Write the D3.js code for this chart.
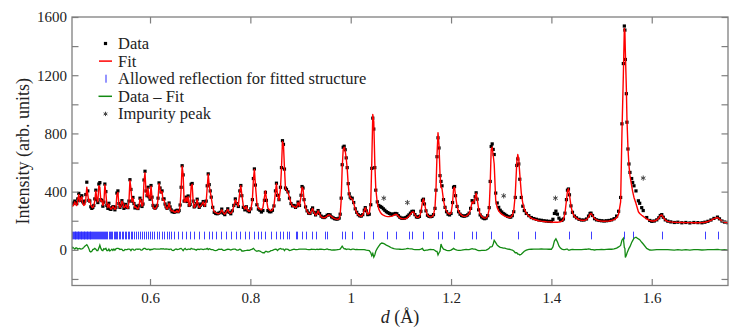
<!DOCTYPE html>
<html>
<head>
<meta charset="utf-8">
<script src="https://cdn.jsdelivr.net/npm/d3@7"></script>
<style>
body { margin: 0; background: #fff; }
text { font-family: "Liberation Serif", "DejaVu Serif", serif; fill: #222; }
</style>
</head>
<body>
<svg id="chart" width="748" height="333"></svg>
<script>
//Messpunkte: d-Werte (Angstrom)
var obsD = [
  0.444,0.446,0.448,0.450,0.452,0.454,0.456,0.458,0.460,0.462,
  0.464,0.466,0.468,0.470,0.472,0.474,0.476,0.478,0.480,0.482,
  0.484,0.486,0.488,0.490,0.492,0.494,0.496,0.498,0.500,0.502,
  0.504,0.506,0.508,0.510,0.512,0.514,0.516,0.518,0.520,0.522,
  0.524,0.526,0.528,0.530,0.532,0.534,0.536,0.538,0.540,0.542,
  0.544,0.546,0.548,0.550,0.552,0.554,0.556,0.558,0.560,0.562,
  0.564,0.566,0.568,0.570,0.572,0.574,0.576,0.578,0.580,0.582,
  0.584,0.586,0.588,0.590,0.592,0.594,0.596,0.598,0.600,0.602,
  0.604,0.606,0.608,0.610,0.612,0.614,0.616,0.618,0.620,0.622,
  0.624,0.626,0.628,0.630,0.632,0.634,0.636,0.638,0.640,0.642,
  0.644,0.646,0.648,0.650,0.652,0.654,0.656,0.658,0.660,0.662,
  0.664,0.666,0.668,0.670,0.672,0.674,0.676,0.678,0.680,0.682,
  0.684,0.686,0.688,0.690,0.692,0.694,0.696,0.698,0.700,
  0.703,0.706,0.709,0.712,0.714,0.716,0.718,0.720,0.722,0.725,
  0.728,0.731,0.734,0.737,0.740,0.743,0.746,0.749,0.752,0.755,
  0.758,0.761,0.764,0.767,0.770,0.773,0.776,0.779,0.781,0.783,
  0.786,0.789,0.792,0.795,0.798,0.801,0.804,0.806,0.808,0.810,
  0.813,0.816,0.819,0.822,0.825,0.828,0.830,0.832,0.835,0.838,
  0.841,0.844,0.847,0.850,0.852,0.854,0.857,0.860,0.862,0.864,
  0.866,0.868,0.870,0.872,0.875,0.878,0.881,0.884,0.887,0.890,
  0.893,0.895,0.898,0.901,0.903,0.905,0.907,0.910,0.913,0.916,
  0.919,0.922,0.924,0.927,0.930,0.933,0.935,0.938,0.941,0.944,
  0.947,0.950,0.953,0.956,0.959,0.962,0.965,0.968,0.971,0.974,
  0.977,0.979,0.981,0.983,0.985,0.987,0.989,0.991,0.993,0.995,
  0.997,0.999,
  1.001,1.003,1.006,1.009,1.012,1.015,1.018,1.021,1.024,1.027,
  1.029,1.031,1.034,1.037,1.040,1.042,1.044,1.046,1.048,1.050,
  1.053,1.056,1.059,1.062,1.065,1.068,1.071,1.074,1.077,1.080,
  1.083,1.086,1.089,1.092,1.095,1.098,1.101,1.104,1.107,1.110,
  1.113,1.116,1.119,1.122,1.125,1.128,1.131,1.134,1.137,1.140,
  1.143,1.145,1.147,1.150,1.153,1.156,1.159,1.162,1.165,1.168,
  1.170,1.172,1.174,1.176,1.178,1.180,1.182,1.185,1.188,1.191,
  1.194,1.197,1.200,1.203,1.205,1.207,1.209,1.212,1.215,1.218,
  1.221,1.224,1.227,1.230,1.233,1.236,1.239,1.242,1.245,1.248,
  1.250,1.252,1.255,1.258,1.261,1.264,1.267,1.270,1.273,1.276,
  1.278,1.280,1.282,1.284,1.286,1.289,1.292,1.295,1.298,1.301,
  1.304,1.307,1.310,1.313,1.316,1.319,1.322,1.325,1.328,1.331,
  1.333,1.335,1.337,1.340,1.343,1.346,1.350,1.355,1.360,1.365,
  1.370,1.375,1.380,1.385,1.390,1.395,1.400,
  1.403,1.406,1.409,1.412,1.415,1.418,1.421,1.424,1.427,1.430,
  1.432,1.434,1.436,1.439,1.442,1.446,1.450,1.455,1.460,1.465,
  1.470,1.474,1.477,1.479,1.482,1.486,1.490,1.495,1.500,1.505,
  1.510,1.515,1.520,1.525,1.530,1.534,1.538,1.5406,1.5434,1.5454,
  1.5465,1.5474,1.5494,1.5506,1.5526,1.5546,1.5566,1.560,1.562,1.5646,
  1.5686,1.5734,1.576,1.580,1.583,1.590,1.596,1.600,1.605,1.610,
  1.614,1.617,1.620,1.623,1.627,1.632,1.638,1.645,1.652,1.660,
  1.668,1.676,1.684,1.692,1.700,1.706,1.712,1.718,1.724,1.731,
  1.735,1.740,1.745,1.752
];

//Gemessene Intensitaet
var obsI = [
  312,318,322,335,325,318,350,388,340,360,
  372,330,322,335,380,465,405,340,335,296,
  285,292,305,350,410,345,325,452,462,345,
  338,300,328,452,400,305,285,320,282,278,
  290,296,295,275,292,390,405,318,292,305,
  338,315,285,298,312,292,290,335,482,415,
  335,360,318,288,300,290,284,305,355,338,
  298,315,480,540,405,372,430,365,348,442,
  362,305,292,286,295,305,355,460,425,398,
  405,348,350,315,296,285,300,322,295,275,
  262,265,258,262,268,272,262,270,308,430,
  578,515,335,340,362,332,370,305,312,450,
  456,335,295,302,318,348,315,292,305,
  315,332,305,335,440,522,448,405,362,292,
  258,250,248,252,258,280,252,242,262,282,
  258,248,268,305,350,318,298,405,442,372,
  292,275,296,268,262,282,345,490,556,445,
  310,280,272,260,270,340,395,340,270,262,
  262,272,302,405,458,375,345,430,565,750,
  725,555,425,415,398,355,318,302,305,292,
  302,328,305,375,435,425,345,295,268,252,
  250,275,288,258,240,255,270,250,232,225,
  222,228,238,242,240,226,220,214,212,212,
  218,245,355,585,705,712,688,632,565,455,
  385,362,
  352,355,325,282,258,242,234,232,242,272,
  290,268,242,245,310,560,905,830,565,410,
  330,305,298,292,282,272,262,256,250,246,
  244,246,250,248,235,224,218,216,218,222,
  230,240,252,264,265,242,226,224,230,265,
  340,348,315,268,238,230,228,230,242,285,
  410,640,770,700,510,470,440,345,292,262,
  245,240,250,325,430,435,372,298,262,245,
  236,232,232,235,240,252,285,338,325,365,
  392,348,275,240,226,218,214,218,235,290,
  470,710,728,690,655,390,322,292,272,260,
  250,244,236,230,226,225,235,262,360,580,
  625,590,485,360,300,270,250,235,222,215,
  210,205,203,200,198,196,195,
  210,250,266,245,218,205,202,212,252,345,
  410,418,378,302,258,232,220,210,205,205,
  212,232,250,252,236,214,206,202,200,198,
  200,202,206,214,232,265,360,866,1280,1538,
  1510,1308,1073,877,693,590,532,490,463,440,
  405,337,320,290,270,222,202,196,198,206,
  220,236,242,224,206,197,192,188,190,186,
  188,185,188,187,186,190,196,205,216,225,
  213,198,191,186
];

//Angepasste Kurve (Fit) an denselben d-Werten
var fitI = [
  305,300,310,330,312,305,345,380,330,355,
  365,320,305,310,350,430,380,330,345,310,
  295,290,300,340,405,350,330,440,430,335,
  340,305,320,448,390,310,290,315,290,280,
  285,300,290,278,285,380,395,310,290,300,
  335,320,290,295,310,290,285,330,478,420,
  330,355,320,290,295,285,280,300,350,340,
  300,310,470,530,400,370,425,360,350,438,
  360,300,285,280,290,300,350,455,420,390,
  400,340,345,310,290,280,295,320,290,270,
  265,270,260,258,262,270,258,265,300,420,
  575,520,330,330,360,330,365,300,310,440,
  450,330,290,300,320,345,310,290,300,
  310,330,300,330,430,520,440,400,360,290,
  262,255,250,248,255,275,255,245,260,278,
  255,250,265,300,345,320,300,400,440,380,
  300,280,300,270,265,280,340,480,553,450,
  320,285,280,275,290,360,405,350,285,275,
  268,275,300,400,455,380,340,420,560,745,
  720,560,420,410,395,360,320,300,300,290,
  300,325,300,370,430,420,340,290,265,250,
  248,270,285,255,238,250,268,245,228,222,
  220,225,232,240,238,228,220,215,212,210,
  215,240,340,560,690,705,680,630,560,450,
  380,360,
  350,350,320,280,255,240,233,230,240,270,
  290,270,245,250,330,600,930,880,600,420,
  320,280,258,245,238,233,230,228,228,230,
  232,238,244,243,230,220,215,213,213,215,
  220,232,245,258,262,240,225,222,228,260,
  330,350,320,270,240,228,225,228,240,290,
  420,650,805,720,520,430,420,340,290,265,
  250,245,252,320,420,430,370,300,265,248,
  238,232,230,232,238,250,280,330,320,360,
  390,350,280,245,230,222,218,220,232,280,
  450,690,705,650,590,340,290,268,255,245,
  238,232,228,225,222,224,236,270,380,600,
  655,620,520,390,320,280,252,232,218,210,
  205,200,197,195,193,192,191,
  190,190,190,190,191,193,197,210,250,340,
  405,420,380,300,255,230,218,208,203,202,
  208,225,245,250,235,215,205,200,197,196,
  197,198,202,208,220,245,330,800,1200,1522,
  1500,1360,1110,900,700,580,510,440,400,360,
  318,262,250,238,230,212,203,198,198,205,
  218,235,240,222,205,196,192,190,189,188,
  187,187,186,186,187,190,195,203,215,222,
  212,198,190,188
];

//Erlaubte Reflexe der angepassten Struktur
var reflD = [
  0.445,0.4465,0.448,0.4495,0.451,0.4525,0.454,0.4555,0.457,0.4585,
  0.460,0.4615,0.463,0.4645,0.466,0.4675,0.469,0.4705,0.472,0.4735,
  0.475,0.4765,0.478,0.4795,0.481,0.483,0.485,0.487,0.489,0.491,
  0.493,0.495,0.497,0.499,0.501,0.503,0.505,0.507,0.509,0.511,
  0.513,0.515,0.5175,0.520,0.5225,0.525,0.5275,0.530,0.5325,0.535,
  0.538,0.541,0.544,0.547,0.550,0.553,0.556,0.559,0.562,0.565,
  0.568,0.572,0.576,0.580,0.584,0.588,0.592,0.596,0.600,0.604,
  0.608,0.613,0.618,0.623,0.628,0.633,0.638,0.642,0.647,0.656,
  0.664,0.671,0.679,0.687,0.697,0.707,0.717,0.724,0.732,0.742,
  0.752,0.761,0.771,0.780,0.790,0.798,0.807,0.815,0.822,0.830,
  0.842,0.851,0.860,0.866,0.874,0.878,0.890,0.893,0.903,0.910,
  0.922,0.931,0.949,0.953,0.983,0.989,1.003,1.027,1.044,1.072,
  1.090,1.116,1.123,1.144,1.173,1.181,1.205,1.241,1.250,1.279,
  1.333,1.368,1.435,1.479,1.545,1.562,1.620,1.707,1.732
];

//Fremdphasen-Peaks (Sternchen)
var impD = [1.066, 1.113, 1.305, 1.408, 1.583];
var impI = [355, 325, 371, 355, 493];

//Achsen
var xTicks = [0.6, 0.8, 1.0, 1.2, 1.4, 1.6];
var xTickLabels = ["0.6", "0.8", "1", "1.2", "1.4", "1.6"];
var yTicks = [-200, 0, 200, 400, 600, 800, 1000, 1200, 1400, 1600];
var yTickLabels = ["", "0", "", "400", "", "800", "", "1200", "", "1600"];
var reflRange = [72, 125];

var legendLabels = ["Data", "Fit", "Allowed reflection for fitted structure", "Data \u2013 Fit", "Impurity peak"];

var margin = {top: 17, right: 20, bottom: 47.5, left: 72};
var width = 748 - margin.left - margin.right;
var height = 333 - margin.top - margin.bottom;

var x = d3.scaleLinear().domain([0.4445, 1.752]).range([0, width]);
var y = d3.scaleLinear().domain([-245, 1600]).range([height, 0]);

var axisColor = "#7f7f7f";
var serif = "'Liberation Serif', 'DejaVu Serif', serif";
var svg = d3.select("#chart");
var g = svg.append("g").attr("transform", "translate(" + margin.left + "," + margin.top + ")");

g.append("defs").append("clipPath").attr("id", "clip")
  .append("rect").attr("width", width).attr("height", height);

var plot = g.append("g").attr("clip-path", "url(#clip)");
var n = Math.min(obsD.length, obsI.length, fitI.length);
var idx = d3.range(n);

//Reflexe
plot.selectAll("line.refl").data(reflD).enter().append("line")
  .attr("class", "refl")
  .attr("x1", function (d) { return Math.round(x(d)) + 0.5; })
  .attr("x2", function (d) { return Math.round(x(d)) + 0.5; })
  .attr("y1", y(reflRange[1]))
  .attr("y2", y(reflRange[0]))
  .attr("stroke", "#2a2aff")
  .attr("stroke-opacity", 0.9)
  .attr("stroke-width", 1);

//Differenzkurve
plot.append("path")
  .datum(idx)
  .attr("fill", "none")
  .attr("stroke", "#138a13")
  .attr("stroke-width", 1.3)
  .attr("d", d3.line()
    .x(function (i) { return x(obsD[i]); })
    .y(function (i) { return y(obsI[i] - fitI[i]); }));

//Messpunkte
var s = 3.2;
plot.selectAll("rect.obs").data(idx).enter().append("rect")
  .attr("class", "obs")
  .attr("x", function (i) { return x(obsD[i]) - s / 2; })
  .attr("y", function (i) { return y(obsI[i]) - s / 2; })
  .attr("width", s)
  .attr("height", s)
  .attr("fill", "#000");

//Fit
plot.append("path")
  .datum(idx)
  .attr("fill", "none")
  .attr("stroke", "#ff0000")
  .attr("stroke-width", 1.4)
  .attr("stroke-linejoin", "round")
  .attr("d", d3.line()
    .x(function (i) { return x(obsD[i]); })
    .y(function (i) { return y(fitI[i]); }));

//Sternchen
function asterisk(r) {
  var p = "";
  for (var k = 0; k < 3; k++) {
    var a = Math.PI / 2 + k * Math.PI / 3;
    var dx = r * Math.cos(a), dy = r * Math.sin(a);
    p += "M" + (-dx) + "," + (-dy) + "L" + dx + "," + dy;
  }
  return p;
}
plot.selectAll("path.imp").data(impD).enter().append("path")
  .attr("class", "imp")
  .attr("transform", function (d, i) { return "translate(" + x(d) + "," + y(impI[i]) + ")"; })
  .attr("d", asterisk(2.6))
  .attr("stroke", "#444")
  .attr("stroke-width", 1);

//Achsen
function styleAxis(sel) {
  sel.attr("font-family", serif);
  sel.select(".domain").remove();
  sel.selectAll(".tick line").attr("stroke", axisColor).attr("stroke-width", 1.2);
  sel.selectAll(".tick text").attr("fill", "#333").style("font-size", "15px")
    .style("font-family", serif);
}

g.append("g").attr("transform", "translate(0," + height + ")")
  .call(d3.axisBottom(x).tickValues(xTicks).tickSize(-6.5).tickPadding(7)
    .tickFormat(function (d, i) { return xTickLabels[i]; }))
  .call(styleAxis);

g.append("g")
  .call(d3.axisTop(x).tickValues(xTicks).tickSize(-6.5).tickFormat(""))
  .call(styleAxis);

g.append("g")
  .call(d3.axisLeft(y).tickValues(yTicks).tickSize(-6.5).tickPadding(5)
    .tickFormat(function (d, i) { return yTickLabels[i]; }))
  .call(styleAxis);

g.append("g").attr("transform", "translate(" + width + ",0)")
  .call(d3.axisRight(y).tickValues(yTicks).tickSize(-6.5).tickFormat(""))
  .call(styleAxis);

g.append("rect")
  .attr("width", width).attr("height", height)
  .attr("fill", "none").attr("stroke", axisColor).attr("stroke-width", 1.3);

//Achsenbeschriftung
svg.append("text")
  .attr("transform", "translate(23," + (margin.top + height / 2) + ") rotate(-90)")
  .attr("text-anchor", "middle")
  .attr("dy", "0.35em")
  .style("font-family", serif)
  .style("font-size", "18px")
  .text("Intensity (arb. units)");

var xl = svg.append("text")
  .attr("x", margin.left + width / 2)
  .attr("y", 323)
  .attr("text-anchor", "middle")
  .style("font-family", serif)
  .style("font-size", "18px");
xl.append("tspan").style("font-style", "italic").text("d");
xl.append("tspan").text(" (\u00c5)");

//Legende
var legend = svg.append("g").attr("transform", "translate(105.5,43.5)");
var rowH = 17.6;
legendLabels.forEach(function (lab, i) {
  var row = legend.append("g").attr("transform", "translate(0," + (i * rowH) + ")");
  if (i === 0) {
    row.append("rect").attr("x", -1.6).attr("y", -1.6).attr("width", 3.2).attr("height", 3.2).attr("fill", "#000");
  } else if (i === 1) {
    row.append("line").attr("x1", -6.5).attr("x2", 6.5).attr("stroke", "#ff0000").attr("stroke-width", 1.5);
  } else if (i === 2) {
    row.append("line").attr("x1", 0.5).attr("x2", 0.5).attr("y1", -4).attr("y2", 4).attr("stroke", "#2a2aff").attr("stroke-width", 1);
  } else if (i === 3) {
    row.append("line").attr("x1", -7).attr("x2", 6.5).attr("stroke", "#138a13").attr("stroke-width", 1.5);
  } else {
    row.append("path").attr("d", asterisk(2.2)).attr("stroke", "#444").attr("stroke-width", 1);
  }
  row.append("text")
    .attr("x", 12.5)
    .attr("dy", "0.33em")
    .style("font-family", serif)
    .style("font-size", "16.5px")
    .text(lab);
});
</script>
</body>
</html>
